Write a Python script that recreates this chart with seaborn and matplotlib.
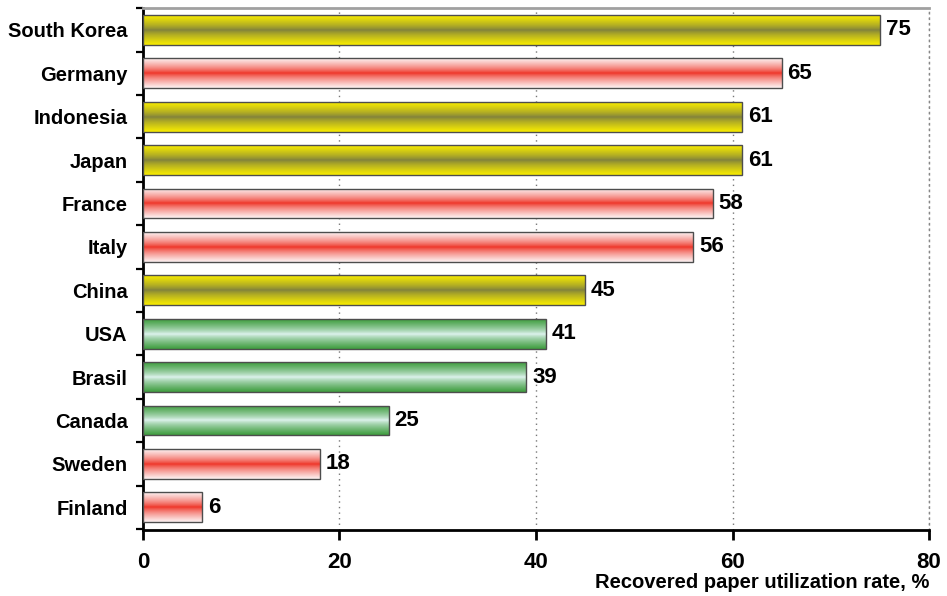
import numpy as np
import pandas as pd
import matplotlib
matplotlib.use("Agg")
import matplotlib.pyplot as plt
import seaborn as sns

countries = ["South Korea", "Germany", "Indonesia", "Japan", "France", "Italy",
             "China", "USA", "Brasil", "Canada", "Sweden", "Finland"]
rates = [75, 65, 61, 61, 58, 56, 45, 41, 39, 25, 18, 6]
regions = ["Asia", "Europe", "Asia", "Asia", "Europe", "Europe",
           "Asia", "America", "America", "America", "Europe", "Europe"]
x_ticks = [0, 20, 40, 60, 80]
x_label = "Recovered paper utilization rate, %"

# edge colour -> centre colour of each bar's horizontal shading
shading = {
    "Asia": ("#f8ec00", "#7e7f3e"),
    "Europe": ("#fdf2f2", "#ee3124"),
    "America": ("#3f9d3f", "#e2f5f2"),
}

df = pd.DataFrame({"country": countries, "rate": rates, "region": regions})

sns.set_style("white")
plt.rcParams["font.family"] = ["Liberation Sans", "DejaVu Sans"]
plt.rcParams["font.weight"] = "bold"
plt.rcParams["text.color"] = "black"
plt.rcParams["axes.labelcolor"] = "black"
plt.rcParams["xtick.color"] = "black"
plt.rcParams["ytick.color"] = "black"

fig = plt.figure(figsize=(9.47, 5.96), dpi=100)
ax = fig.add_axes([0.151, 0.111, 0.830, 0.876])

sns.barplot(data=df, x="rate", y="country", orient="h", width=0.69,
            color="white", ax=ax, zorder=3)

def gradient(edge, centre, n=64):
    e = np.array(matplotlib.colors.to_rgb(edge))
    c = np.array(matplotlib.colors.to_rgb(centre))
    t = np.abs(np.linspace(-1, 1, n))[:, None]
    w = np.clip(t, 0, 1) ** 0.75
    return (c * (1 - w) + e * w)[:, None, :]

for patch, reg in zip(ax.patches, regions):
    x0, y0 = patch.get_x(), patch.get_y()
    w, h = patch.get_width(), patch.get_height()
    img = ax.imshow(gradient(*shading[reg]), extent=[x0, x0 + w, y0 + h, y0],
                    aspect="auto", zorder=3, interpolation="bilinear")
    img.set_clip_path(patch)
    patch.set_facecolor("none")
    patch.set_edgecolor("#4d4d4d")
    patch.set_linewidth(1.0)
    patch.set_zorder(4)
    ax.text(x0 + w + 0.6, y0 + h / 2, f"{int(w)}", va="center", ha="left",
            fontsize=16, fontweight="bold", color="black", zorder=5)

ax.set_xlim(0, 80)
ax.set_ylim(11.52, -0.51)
ax.set_xticks(x_ticks)
ax.set_xticklabels([str(t) for t in x_ticks])
ax.tick_params(axis="x", bottom=True, direction="out", length=7, width=2, pad=9,
               colors="black", labelsize=16)
for lab in ax.get_xticklabels():
    lab.set_fontweight("bold")
ax.tick_params(axis="y", which="major", left=False, length=0, pad=11, labelsize=14.5,
               labelcolor="black")
for lab in ax.get_yticklabels():
    lab.set_fontweight("bold")
ax.set_yticks(np.arange(-0.5, len(countries), 1.0), minor=True)
ax.tick_params(axis="y", which="minor", left=True, direction="out", length=5,
               width=1.6, color="black")

ax.set_axisbelow(True)
ax.xaxis.grid(True, linestyle=(0, (1, 3)), color="#777777", linewidth=1.0, zorder=0)
ax.yaxis.grid(False)

ax.set_ylabel("")
ax.set_xlabel(x_label, loc="right", fontsize=14.5, fontweight="bold", labelpad=0,
              color="black")

for s in ["left", "bottom"]:
    ax.spines[s].set_color("black")
    ax.spines[s].set_linewidth(2.0)
ax.spines["top"].set_color("#a0a0a0")
ax.spines["top"].set_linewidth(2.0)
ax.spines["right"].set_color("#888888")
ax.spines["right"].set_linestyle((0, (1, 3)))
ax.spines["right"].set_linewidth(1.0)

fig.savefig("out.png", dpi=100, facecolor="white")
